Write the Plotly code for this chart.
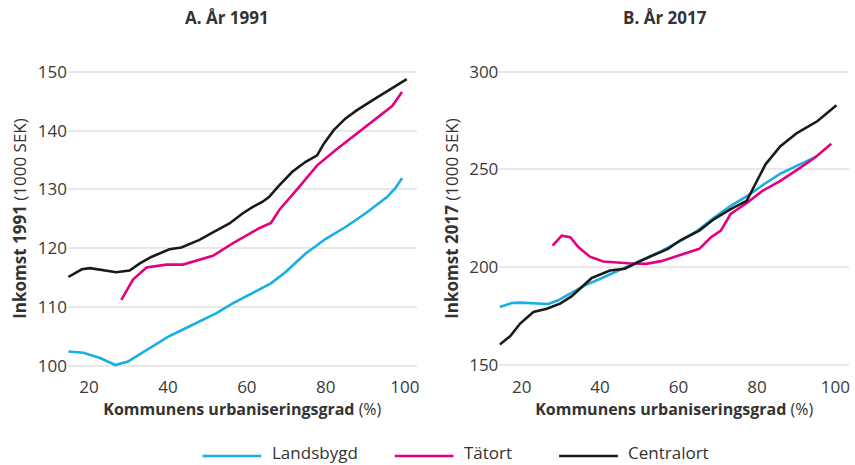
import plotly.graph_objects as go

# ---------------- Data ----------------
# Panel A: År 1991
land91_x = [14.8, 18.6, 22.8, 26.7, 29.9, 34.6, 40.0, 44.6, 48.8, 52.2, 56.4, 61.4, 66.1, 69.9, 74.9, 80.0, 85.0, 90.0, 95.5, 97.6, 99.3]
land91_y = [102.4, 102.2, 101.3, 100.1, 100.7, 102.6, 104.9, 106.4, 107.8, 108.9, 110.6, 112.3, 114.0, 116.0, 119.1, 121.6, 123.6, 125.9, 128.7, 130.2, 131.9]

tat91_x = [28.2, 31.2, 34.6, 39.6, 43.8, 48.0, 51.4, 56.4, 60.6, 63.1, 66.1, 68.2, 73.2, 77.8, 82.5, 88.3, 92.6, 96.8, 99.3]
tat91_y = [111.2, 114.7, 116.7, 117.2, 117.2, 118.1, 118.7, 120.8, 122.5, 123.4, 124.3, 126.5, 130.4, 134.1, 136.7, 139.8, 142.1, 144.2, 146.6]

cen91_x = [14.8, 18.2, 20.3, 23.6, 26.9, 30.3, 32.9, 35.8, 40.4, 43.4, 48.0, 51.4, 55.6, 58.9, 61.4, 64.0, 65.6, 68.2, 71.5, 74.9, 77.8, 79.5, 82.0, 85.0, 87.9, 92.6, 96.8, 100.5]
cen91_y = [115.1, 116.4, 116.6, 116.3, 115.9, 116.2, 117.4, 118.5, 119.8, 120.1, 121.4, 122.7, 124.2, 125.9, 127.0, 127.9, 128.7, 130.7, 133.0, 134.7, 135.8, 137.8, 140.1, 142.1, 143.5, 145.5, 147.2, 148.8]

# Panel B: År 2017
land17_x = [14.4, 17.5, 19.6, 23.4, 26.8, 29.3, 32.7, 36.1, 39.5, 42.9, 47.1, 51.3, 55.6, 60.6, 64.9, 69.1, 73.3, 77.6, 81.8, 86.0, 91.1, 95.4]
land17_y = [179.7, 181.7, 181.9, 181.5, 181.2, 183.1, 186.8, 190.7, 193.6, 196.6, 200.4, 204.3, 208.2, 213.6, 218.7, 225.4, 231.4, 236.5, 242.4, 247.8, 252.9, 256.8]

tat17_x = [27.9, 30.2, 32.4, 34.5, 37.4, 40.8, 47.1, 51.7, 55.6, 60.6, 65.3, 68.3, 70.8, 73.3, 77.6, 81.4, 86.0, 91.1, 95.0, 99.0]
tat17_y = [211.0, 216.1, 215.3, 210.2, 205.4, 202.9, 202.0, 201.7, 203.1, 206.3, 209.4, 215.3, 218.7, 227.2, 233.1, 239.0, 244.1, 250.9, 256.3, 263.1]

cen17_x = [14.4, 17.1, 19.6, 23.0, 26.4, 29.8, 32.7, 35.3, 37.8, 42.5, 46.3, 50.5, 57.3, 60.6, 65.3, 69.1, 73.3, 77.4, 79.7, 82.2, 86.0, 90.3, 95.4, 100.3]
cen17_y = [160.5, 164.8, 171.2, 177.1, 178.8, 181.4, 185.1, 189.8, 194.4, 198.3, 199.2, 203.4, 209.4, 213.9, 218.7, 224.6, 229.7, 233.9, 243.2, 252.6, 261.9, 268.7, 274.6, 282.8]

series_names = ["Landsbygd", "Tätort", "Centralort"]
series_colors = ["#1aaee5", "#e5007d", "#1a1a1a"]

x_ticks = [20, 40, 60, 80, 100]
y_ticks_a = [100, 110, 120, 130, 140, 150]
y_ticks_b = [150, 200, 250, 300]

FONT = "Open Sans"
TXT = "#333333"

fig = go.Figure()

panels = [
    ("x", "y", [(land91_x, land91_y), (tat91_x, tat91_y), (cen91_x, cen91_y)]),
    ("x2", "y2", [(land17_x, land17_y), (tat17_x, tat17_y), (cen17_x, cen17_y)]),
]
for xa, ya, data in panels:
    for (xs, ys), name, col in zip(data, series_names, series_colors):
        fig.add_trace(go.Scatter(x=xs, y=ys, mode="lines", name=name,
                                 line=dict(color=col, width=2.6),
                                 xaxis=xa, yaxis=ya, showlegend=False,
                                 hoverinfo="skip"))

axis_common = dict(showline=False, zeroline=False, ticks="",
                   tickfont=dict(family=FONT, size=17, color="#3a3a3a"))

XT = dict(text="<b>Kommunens urbaniseringsgrad</b> (%)",
          font=dict(family=FONT, size=16, color=TXT), standoff=2)

fig.update_layout(
    width=855, height=465,
    margin=dict(l=68, r=3, t=62, b=90),
    paper_bgcolor="white", plot_bgcolor="white",
    font=dict(family=FONT, color=TXT),
    showlegend=False,
    xaxis=dict(domain=[0, 0.4464], range=[14.7, 103], tickvals=x_ticks,
               showgrid=False, anchor="y", title=XT, **axis_common),
    yaxis=dict(domain=[0, 1], range=[98.4, 151.7], tickvals=y_ticks_a,
               showgrid=True, gridcolor="#e8e8e8", gridwidth=1.5, anchor="x",
               title=dict(text="<b>Inkomst 1991</b> (1000 SEK)",
                          font=dict(family=FONT, size=17, color=TXT), standoff=6),
               **axis_common),
    xaxis2=dict(domain=[0.5523, 1.0], range=[14.3, 103.5], tickvals=x_ticks,
                showgrid=False, anchor="y2", title=XT, **axis_common),
    yaxis2=dict(domain=[0, 1], range=[144.9, 304.9], tickvals=y_ticks_b,
                showgrid=True, gridcolor="#e8e8e8", gridwidth=1.5, anchor="x2",
                title=dict(text="<b>Inkomst 2017</b> (1000 SEK)",
                           font=dict(family=FONT, size=17, color=TXT), standoff=6),
                **axis_common),
)

# Panel titles
W = 784.0
H = 313.0
def px(xp):
    return (xp - 68) / W
def py(yp):
    return (375 - yp) / H

fig.add_annotation(text="<b>A. År 1991</b>", x=px(228), y=py(17), xref="paper", yref="paper",
                   showarrow=False, font=dict(family=FONT, size=17, color=TXT),
                   xanchor="center", yanchor="middle")
fig.add_annotation(text="<b>B. År 2017</b>", x=px(667), y=py(17), xref="paper", yref="paper",
                   showarrow=False, font=dict(family=FONT, size=17, color=TXT),
                   xanchor="center", yanchor="middle")

# Custom legend at the bottom
legend_items = [(203, 262, 271), (396, 455, 464), (561, 620, 628)]
for (x0, x1, xt), name, col in zip(legend_items, series_names, series_colors):
    fig.add_shape(type="line", xref="paper", yref="paper",
                  x0=px(x0), x1=px(x1), y0=py(456), y1=py(456),
                  line=dict(color=col, width=2.6))
    fig.add_annotation(text=name, x=px(xt), y=py(453), xref="paper", yref="paper",
                       showarrow=False, xanchor="left", yanchor="middle",
                       font=dict(family=FONT, size=17, color=TXT))

fig.write_html("out.html", config={"displayModeBar": False},
               post_script="document.body.style.margin='0';document.body.style.overflow='hidden';")
